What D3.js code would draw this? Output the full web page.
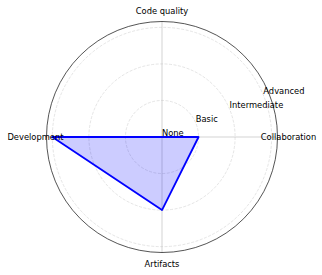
<!DOCTYPE html>
<html>
<head>
<meta charset="utf-8">
<script src="https://cdn.jsdelivr.net/npm/d3@7"></script>
<style>
  body { margin: 0; background: #fff; }
  text { font-family: "DejaVu Sans", sans-serif; font-size: 8.33px; fill: #000; }
</style>
</head>
<body>
<div id="chart"></div>
<script>
var categories = ["Collaboration", "Code quality", "Development", "Artifacts"];
var values = [1, 0, 3, 2];
var levels = ["None", "Basic", "Intermediate", "Advanced"];
var levelValues = [0, 1, 2, 3];

var width = 322, height = 275;
var cx = 162, cy = 137;
var rMax = 3.16;

var svg = d3.select("#chart").append("svg")
  .attr("width", width)
  .attr("height", height);

var r = d3.scaleLinear().domain([0, rMax]).range([0, 115.5]);
// angle counterclockwise from the right, like matplotlib polar
var angle = d3.scaleBand().domain(categories).range([0, 2 * Math.PI]).align(0).paddingInner(0).paddingOuter(0);

function pt(a, rad) {
  return [cx + rad * Math.cos(a), cy - rad * Math.sin(a)];
}

var g = svg.append("g");

// circular grid (dashed)
g.selectAll("circle.grid")
  .data(levelValues.filter(function (d) { return d > 0; }))
  .join("circle")
  .attr("class", "grid")
  .attr("cx", cx).attr("cy", cy)
  .attr("r", function (d) { return r(d); })
  .attr("fill", "none")
  .attr("stroke", "#d8d8d8")
  .attr("stroke-width", 0.67)
  .attr("stroke-dasharray", "3,1.5");

// spokes
g.selectAll("line.spoke")
  .data(categories)
  .join("line")
  .attr("class", "spoke")
  .attr("x1", cx).attr("y1", cy)
  .attr("x2", function (d) { return pt(angle(d), r(rMax))[0]; })
  .attr("y2", function (d) { return pt(angle(d), r(rMax))[1]; })
  .attr("stroke", "#bdbdbd")
  .attr("stroke-width", 0.67);

// data polygon
var line = d3.line()
  .x(function (d, i) { return pt(angle(categories[i]), r(d))[0]; })
  .y(function (d, i) { return pt(angle(categories[i]), r(d))[1]; })
  .curve(d3.curveLinearClosed);

g.append("path")
  .datum(values)
  .attr("d", line)
  .attr("fill", "#0000ff")
  .attr("fill-opacity", 0.2)
  .attr("stroke", "#0000ff")
  .attr("stroke-width", 1.8)
  .attr("stroke-linejoin", "round");

// outer frame
g.append("circle")
  .attr("cx", cx).attr("cy", cy)
  .attr("r", r(rMax))
  .attr("fill", "none")
  .attr("stroke", "#000")
  .attr("stroke-width", 0.67);

// radial level labels at 22.5 degrees
var labAngle = 22.5 * Math.PI / 180;
g.selectAll("text.level")
  .data(levels)
  .join("text")
  .attr("class", "level")
  .attr("x", function (d, i) { return pt(labAngle, r(levelValues[i]))[0]; })
  .attr("y", function (d, i) { return pt(labAngle, r(levelValues[i]))[1] - 1; })
  .text(function (d) { return d; });

// category labels
g.selectAll("text.cat")
  .data(categories)
  .join("text")
  .attr("class", "cat")
  .attr("x", function (d) { return pt(angle(d), 126.5)[0]; })
  .attr("y", function (d) { return pt(angle(d), 126.5)[1]; })
  .attr("text-anchor", "middle")
  .attr("dominant-baseline", "central")
  .text(function (d) { return d; });
</script>
</body>
</html>
